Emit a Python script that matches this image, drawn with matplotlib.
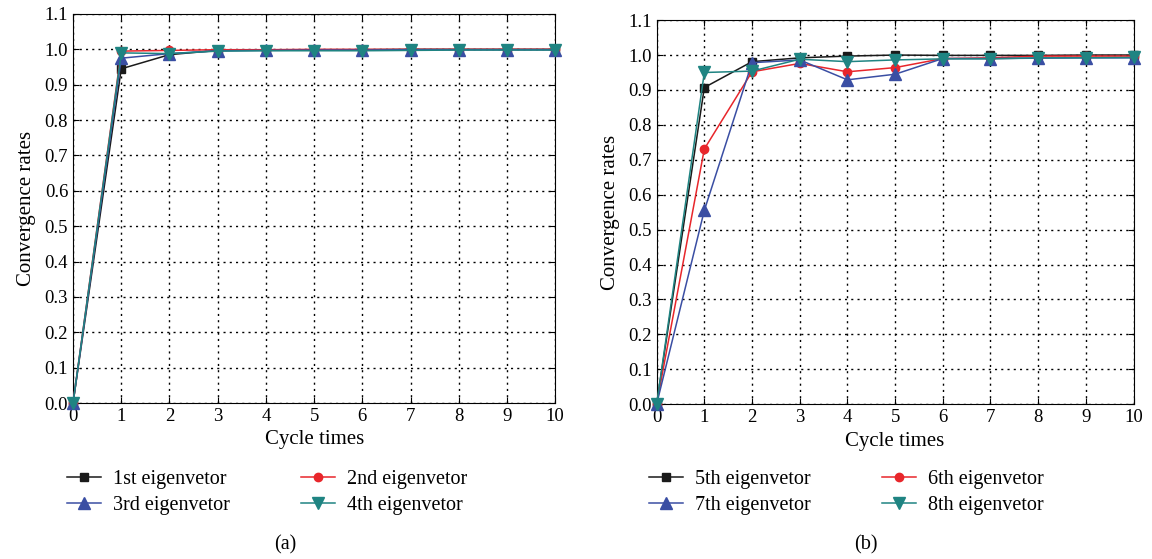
import numpy as np
import matplotlib
matplotlib.use("Agg")
from matplotlib import pyplot as plt

plt.rcParams['font.family'] = ['Liberation Serif', 'DejaVu Serif']

cycles = list(range(11))

# panel (a)
eig1 = [0, 0.945, 0.985, 0.997, 0.998, 0.999, 0.999, 1.0, 1.0, 1.0, 1.0]
eig2 = [0, 0.995, 0.997, 0.999, 0.999, 1.0, 1.0, 1.0, 1.0, 1.0, 1.0]
eig3 = [0, 0.975, 0.988, 0.996, 0.997, 0.998, 0.998, 0.999, 0.999, 0.999, 0.999]
eig4 = [0, 0.990, 0.988, 0.995, 0.996, 0.996, 0.996, 0.997, 0.998, 0.998, 0.998]

# panel (b)
eig5 = [0, 0.907, 0.981, 0.992, 0.997, 1.0, 0.999, 0.999, 0.999, 1.0, 1.0]
eig6 = [0, 0.731, 0.952, 0.976, 0.952, 0.964, 0.990, 0.992, 0.997, 0.997, 0.997]
eig7 = [0, 0.555, 0.978, 0.986, 0.929, 0.945, 0.990, 0.990, 0.991, 0.992, 0.992]
eig8 = [0, 0.950, 0.954, 0.988, 0.981, 0.986, 0.989, 0.989, 0.992, 0.992, 0.993]

labels_a = ["1st eigenvetor", "2nd eigenvetor", "3rd eigenvetor", "4th eigenvetor"]
labels_b = ["5th eigenvetor", "6th eigenvetor", "7th eigenvetor", "8th eigenvetor"]

colors = ["#1a1a1a", "#e8262b", "#3a4ea3", "#1f8482"]
markers = ["s", "o", "^", "v"]
msizes = [6, 6, 8, 8]

fig = plt.figure(figsize=(11.52, 5.59), dpi=100)
ax_a = fig.add_axes([0.0634, 0.279, 0.4186, 0.696])
ax_b = fig.add_axes([0.570, 0.277, 0.414, 0.687])


def draw(ax, series, labels, leg_x):
    handles = []
    for s, lab, c, m, ms in zip(series, labels, colors, markers, msizes):
        h, = ax.plot(cycles, s, color=c, marker=m, markersize=ms, linewidth=1.1,
                     label=lab, clip_on=False, zorder=3)
        handles.append(h)
    ax.set_xlim(0, 10)
    ax.set_ylim(0, 1.1)
    ax.set_xticks(range(11))
    ax.set_yticks(np.arange(0, 1.11, 0.1))
    ax.set_yticklabels(["%.1f" % v for v in np.arange(0, 1.11, 0.1)])
    ax.grid(True, linestyle=(0, (1.5, 3)), color="black", linewidth=1.0)
    ax.tick_params(direction="in", top=True, right=True, labelsize=13.5, length=4)
    ax.set_xlabel("Cycle times", fontsize=15, labelpad=4)
    ax.set_ylabel("Convergence rates", fontsize=15, labelpad=6)
    # legend rows: (1,2), (3,4)
    order = [0, 2, 1, 3]
    fig.legend([handles[i] for i in order], [labels[i] for i in order], ncol=2,
               loc="upper left", bbox_to_anchor=(leg_x, 1 - 470 / 559),
               bbox_transform=fig.transFigure, frameon=False, borderpad=0,
               borderaxespad=0, fontsize=14.5, handlelength=1.7,
               handletextpad=0.6, columnspacing=3.5, labelspacing=0.35)


draw(ax_a, [eig1, eig2, eig3, eig4], labels_a, 67 / 1152)
draw(ax_b, [eig5, eig6, eig7, eig8], labels_b, 649 / 1152)
fig.text(285 / 1152, 1 - 545 / 559, "(a)", fontsize=14.5, ha="center", va="center")
fig.text(866 / 1152, 1 - 545 / 559, "(b)", fontsize=14.5, ha="center", va="center")

fig.savefig("out.png", dpi=100)
